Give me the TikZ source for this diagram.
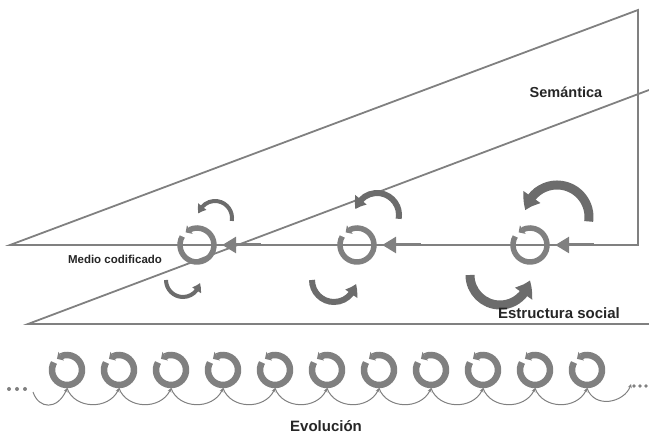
\documentclass[tikz,border=0pt]{standalone}
\usepackage{fontspec}
\setmainfont{Liberation Sans}
\usetikzlibrary{arrows.meta,calc,positioning,bending}

\definecolor{gris}{RGB}{128,128,128}
\definecolor{grisosc}{RGB}{108,108,108}

\tikzset{
    linea/.style={draw=gris, line width=1.8pt},
    eje/.style={circle, minimum size=#1, inner sep=0pt},
    pics/giro/.style args={#1/#2}{code={
        \draw[gris, line width=#2, -{Triangle[length=5pt,width=10pt]}]
            (150:#1) arc[start angle=150, end angle=492, radius=#1];
    }},
    retorno/.style n args={3}{draw=grisosc, line width=#1, -{Triangle[length=#2,width=#3,bend]}},
    entrada/.style={draw=gris, line width=3pt, -{Triangle[length=14pt,width=16pt]}, shorten >=3pt},
    conector/.style={draw=gris, line width=1pt, -{Stealth[length=4pt,width=4pt]}},
    texto/.style={text=black!85, font=\bfseries\fontsize{15}{18}\selectfont},
}

\begin{document}
\begin{tikzpicture}[>=Stealth, x=1pt, y=1pt]

    \useasboundingbox (0,0) rectangle (649,436);

    \draw[linea] (10,191) coordinate (A) -- (638,426) coordinate (B) -- (638,191) coordinate (C) -- cycle;
    \draw[linea] (649,346) coordinate (D) -- (28,112) coordinate (E) -- (649,112) coordinate (F);

    \node[eje=44pt] (m1) at (197,191) {};
    \node[eje=44pt] (m2) at (357,191) {};
    \node[eje=44pt] (m3) at (530,191) {};

    \foreach \n in {m1,m2,m3}{
        \pic at (\n) {giro=17/5.5pt};
        \draw[entrada] ($(\n.east)+(42,0)$) -- (\n.east);
    }

    \draw[retorno={4pt}{8pt}{10pt}] ($(m1)+(18,27)+(-10:17)$) arc[start angle=-10, end angle=165, radius=17];
    \draw[retorno={4pt}{8pt}{10pt}] ($(m1)+(-14,-35)+(180:17)$) arc[start angle=180, end angle=350, radius=17];
    \draw[retorno={6pt}{11pt}{14pt}] ($(m2)+(20,30)+(-10:22)$) arc[start angle=-10, end angle=165, radius=22];
    \draw[retorno={6pt}{11pt}{14pt}] ($(m2)+(-23,-35)+(180:22)$) arc[start angle=180, end angle=350, radius=22];
    \draw[retorno={9pt}{15pt}{20pt}] ($(m3)+(27,28)+(-8:32)$) arc[start angle=-8, end angle=168, radius=32];
    \draw[retorno={9pt}{15pt}{20pt}] ($(m3)+(-30,-30)+(180:30)$) arc[start angle=180, end angle=350, radius=30];

    \foreach \i in {0,...,10}{
        \node[eje=36pt] (e\i) at (67+52*\i,66) {};
        \pic at (e\i) {giro=15/6.5pt};
    }
    \foreach \i [evaluate=\i as \j using int(\i+1)] in {0,...,9}
        \draw[conector] (e\i.south) .. controls +(8,-22) and +(-8,-22) .. (e\j.south);

    \coordinate (izq) at (33,44);
    \coordinate (der) at (631,52);
    \draw[conector] (izq) .. controls +(6,-18) and +(-8,-22) .. (e0.south);
    \draw[conector] (e10.south) .. controls +(8,-22) and +(-4,-18) .. (der);
    \foreach \x in {9,17,25} \fill[gris] (\x,47) circle (2);
    \foreach \x in {634,640,646} \fill[gris] (\x,50) circle (1.8);

    \node[texto, font=\bfseries\fontsize{14.5}{17}\selectfont] (sem) at (566,344) {Semántica};
    \node[texto, font=\bfseries\fontsize{11.5}{13}\selectfont] (med) at (115,177) {Medio codificado};
    \node[texto] (est) at (559,123) {Estructura social};
    \node[texto] (evo) at (326,10) {Evolución};

\end{tikzpicture}
\end{document}
